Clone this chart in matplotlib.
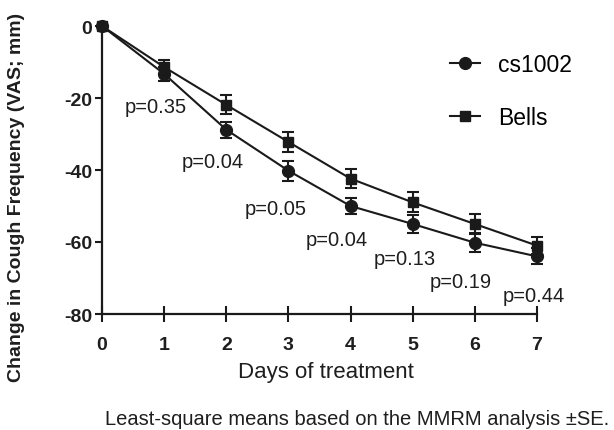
import matplotlib
matplotlib.use('Agg')
from matplotlib import pyplot as plt
import numpy as np

plt.rcParams['font.family'] = ['Liberation Sans', 'DejaVu Sans']
plt.rcParams['axes.unicode_minus'] = False

# data
days = [0, 1, 2, 3, 4, 5, 6, 7]
cs1002 = [0, -13.3, -28.8, -40.2, -50.0, -55.0, -60.2, -64.0]
cs1002_se = [0, 2.0, 2.2, 2.8, 2.2, 2.6, 2.6, 2.2]
bells = [0, -11.4, -21.9, -32.2, -42.4, -49.0, -55.0, -61.0]
bells_se = [0, 2.0, 2.6, 2.8, 2.6, 2.8, 2.8, 2.4]

pvals = ['p=0.35', 'p=0.04', 'p=0.05', 'p=0.04', 'p=0.13', 'p=0.19', 'p=0.44']
pval_x = [0.37, 1.29, 2.30, 3.27, 4.38, 5.27, 6.44]
pval_y = [-22.4, -37.7, -50.7, -59.3, -64.5, -70.9, -74.8]

fig = plt.figure(figsize=(6.14, 4.31), dpi=100)
ax = fig.add_axes([102 / 614, 116 / 431, 435 / 614, 288 / 431])

line_col = '#1a1a1a'
text_col = '#1e1e1e'
ax.errorbar(days, cs1002, yerr=cs1002_se, color=line_col, marker='o', markersize=8.5,
            linewidth=1.5, elinewidth=1.5, capsize=4.5, capthick=1.5,
            label='cs1002', clip_on=False, zorder=3)
ax.errorbar(days, bells, yerr=bells_se, color=line_col, marker='s', markersize=7.5,
            linewidth=1.5, elinewidth=1.5, capsize=4.5, capthick=1.5,
            label='Bells', clip_on=False, zorder=3)

for txt, x, y in zip(pvals, pval_x, pval_y):
    ax.text(x, y, txt, fontsize=14.5, color=text_col, ha='left', va='center')

ax.set_xlim(0, 7)
ax.set_ylim(-80, 0)
ax.set_xticks(days)
ax.set_yticks([0, -20, -40, -60, -80])
ax.tick_params(axis='x', direction='inout', length=11.5, width=1.5, pad=10,
               labelsize=14, color=line_col, labelcolor=text_col)
ax.tick_params(axis='y', direction='out', length=5, width=1.5, pad=2,
               labelsize=14, color=line_col, labelcolor=text_col)
for lbl in ax.get_xticklabels() + ax.get_yticklabels():
    lbl.set_fontweight('bold')
for s in ['top', 'right']:
    ax.spines[s].set_visible(False)
for s in ['left', 'bottom']:
    ax.spines[s].set_linewidth(1.6)
    ax.spines[s].set_color(line_col)

handles, labels = ax.get_legend_handles_labels()
handles = [h[0] for h in handles]
fig.legend(handles, labels, loc='upper left', bbox_to_anchor=(450 / 614, 1 - 54 / 431),
           frameon=False, fontsize=16.5, handlelength=1.3, labelspacing=1.3,
           handletextpad=0.8, borderpad=0, borderaxespad=0)

fig.text(17 / 614, 1 - 197 / 431, 'Change in Cough Frequency (VAS; mm)', rotation=90,
         fontsize=14, fontweight='bold', ha='center', va='center', color=text_col)
fig.text(326 / 614, 1 - 378 / 431, 'Days of treatment', fontsize=16,
         ha='center', va='baseline', color=text_col)
fig.text(105 / 614, 1 - 425 / 431, 'Least-square means based on the MMRM analysis \u00b1SE.',
         fontsize=14.5, ha='left', va='baseline', color=text_col)

fig.savefig('out.png', dpi=100)
